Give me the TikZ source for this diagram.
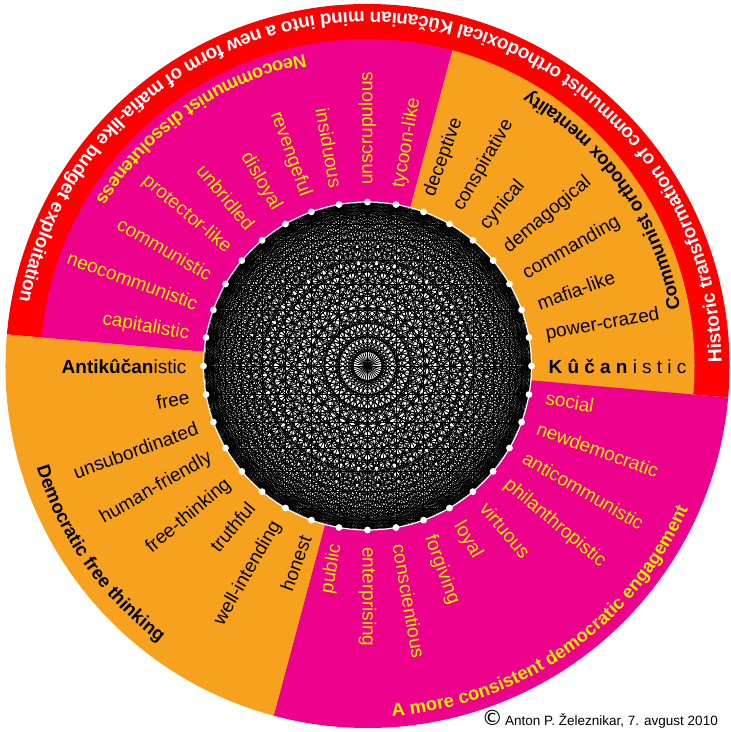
\documentclass[tikz,border=0pt]{standalone}
\usepackage{fontspec}
\setmainfont{Liberation Sans}
\newfontfamily\djv{DejaVu Sans}
\usetikzlibrary{decorations.text}
\definecolor{wOrange}{RGB}{247,162,30}
\definecolor{wMagenta}{RGB}{236,0,140}
\definecolor{wRed}{RGB}{255,0,0}
\definecolor{wYellow}{RGB}{255,242,0}
\newcommand\lblfont{\fontsize{19}{22}\selectfont}
\newcommand\ttlfont{\fontsize{18.5}{22}\selectfont\bfseries}
\newcommand\ringfont{\fontsize{19}{22}\selectfont\bfseries}
\newcommand\lsp{\hspace{5.2pt}}
\tikzset{
  rlab/.style={anchor=west, inner sep=0pt, font=\lblfont},
  llab/.style={anchor=east, inner sep=0pt, font=\lblfont},
  chord/.style={black, line width=0.8pt},
  arctext/.style={decorate, decoration={text along path, text align=center, text={#1}}}
}
\begin{document}
\begin{tikzpicture}[x=1pt,y=1pt]
\useasboundingbox (-367.5,-366) rectangle (363.5,366);
\def\rin{164}
\def\rout{362}
\def\rmid{327}
\def\rl{181}
% sectors
\fill[wRed] (-5:\rin) -- (-5:\rout) arc[start angle=-5,end angle=175,radius=\rout] -- (175:\rin) arc[start angle=175,end angle=-5,radius=\rin] -- cycle;
\fill[wOrange] (-5:\rin) -- (-5:\rmid) arc[start angle=-5,end angle=75,radius=\rmid] -- (75:\rin) arc[start angle=75,end angle=-5,radius=\rin] -- cycle;
\fill[wMagenta] (75:\rin) -- (75:\rmid) arc[start angle=75,end angle=175,radius=\rmid] -- (175:\rin) arc[start angle=175,end angle=75,radius=\rin] -- cycle;
\fill[wOrange] (175:\rin) -- (175:\rout) arc[start angle=175,end angle=255,radius=\rout] -- (255:\rin) arc[start angle=255,end angle=175,radius=\rin] -- cycle;
\fill[wMagenta] (255:\rin) -- (255:\rout) arc[start angle=255,end angle=355,radius=\rout] -- (355:\rin) arc[start angle=355,end angle=255,radius=\rin] -- cycle;
% chords (complete graph on 36 points)
\foreach \k in {0,...,35} \coordinate (p\k) at (\k*10:\rin);
\foreach \i in {0,...,34}{
  \pgfmathtruncatemacro\ii{\i+1}
  \foreach \j in {\ii,...,35}{ \draw[chord] (p\i) -- (p\j); }
}
\draw[white, line width=1.2pt] (0,0) circle[radius=\rin];
\foreach \k in {0,...,35} \fill[white] (p\k) circle[radius=3.4];
% labels right half
\foreach \a/\t [count=\k] in {-90/enterprising,-80/conscientious,-70/forgiving,-60/loyal,-50/virtuous,-40/philanthropistic,-30/anticommunistic,-20/newdemocratic,-10/social}
  \node[rlab, text=wYellow, rotate=\a] (rm\k) at (\a:\rl) {\t};
\node[rlab, text=black] (kuc) at (0:\rl) {\textbf{K\lsp û\lsp č\lsp a\lsp n}\lsp i\lsp s\lsp t\lsp i\lsp c};
\foreach \a/\t [count=\k] in {10/power-crazed,20/mafia-like,30/commanding,40/demagogical,50/cynical,60/conspirative,70/deceptive}
  \node[rlab, text=black, rotate=\a] (ro\k) at (\a:\rl) {\t};
\foreach \a/\t [count=\k] in {80/tycoon-like,90/unscrupulous}
  \node[rlab, text=wYellow, rotate=\a] (rt\k) at (\a:\rl) {\t};
% labels left half
\foreach \a/\t [count=\k] in {100/insiduous,110/revengeful,120/disloyal,130/unbridled,140/protector-like,150/communistic,160/neocommunistic,170/capitalistic}
  \node[llab, text=wYellow, rotate=\a-180] (lm\k) at (\a:\rl) {\t};
\node[llab, text=black] (anti) at (180:\rl) {\textbf{Antikûčan}istic};
\foreach \a/\t [count=\k] in {190/free,200/unsubordinated,210/human-friendly,220/free-thinking,230/truthful,240/well-intending,250/honest}
  \node[llab, text=black, rotate=\a-180] (lo\k) at (\a:\rl) {\t};
\node[llab, text=wYellow, rotate=80] (pub) at (260:\rl) {public};
% titles along arcs
\path[arctext={|\ringfont\color{white}|Historic transformation of communist orthodoxical Kûčanian mind into a new form of mafia-like budget exploitation}]
  (-5:354) arc[start angle=-5,end angle=175,radius=354];
\path[arctext={|\ttlfont\color{black}|Communist orthodox mentality}]
  (-5:318) arc[start angle=-5,end angle=75,radius=318];
\path[arctext={|\ttlfont\color{wYellow}|Neocommunist dissoluteness}]
  (75:318) arc[start angle=75,end angle=175,radius=318];
\path[arctext={|\ttlfont\color{black}|Democratic free thinking}]
  (175:346) arc[start angle=175,end angle=255,radius=346];
\path[arctext={|\ttlfont\color{wYellow}|A more consistent democratic engagement}]
  (255:351) arc[start angle=255,end angle=355,radius=351];
% copyright
\node[anchor=base east, inner sep=0pt, font=\fontsize{13.5}{16}\selectfont] (copy) at (350.5,-359) {{\djv\fontsize{21}{21}\selectfont ©}\,Anton P. Železnikar, 7. avgust 2010};
\end{tikzpicture}
\end{document}
